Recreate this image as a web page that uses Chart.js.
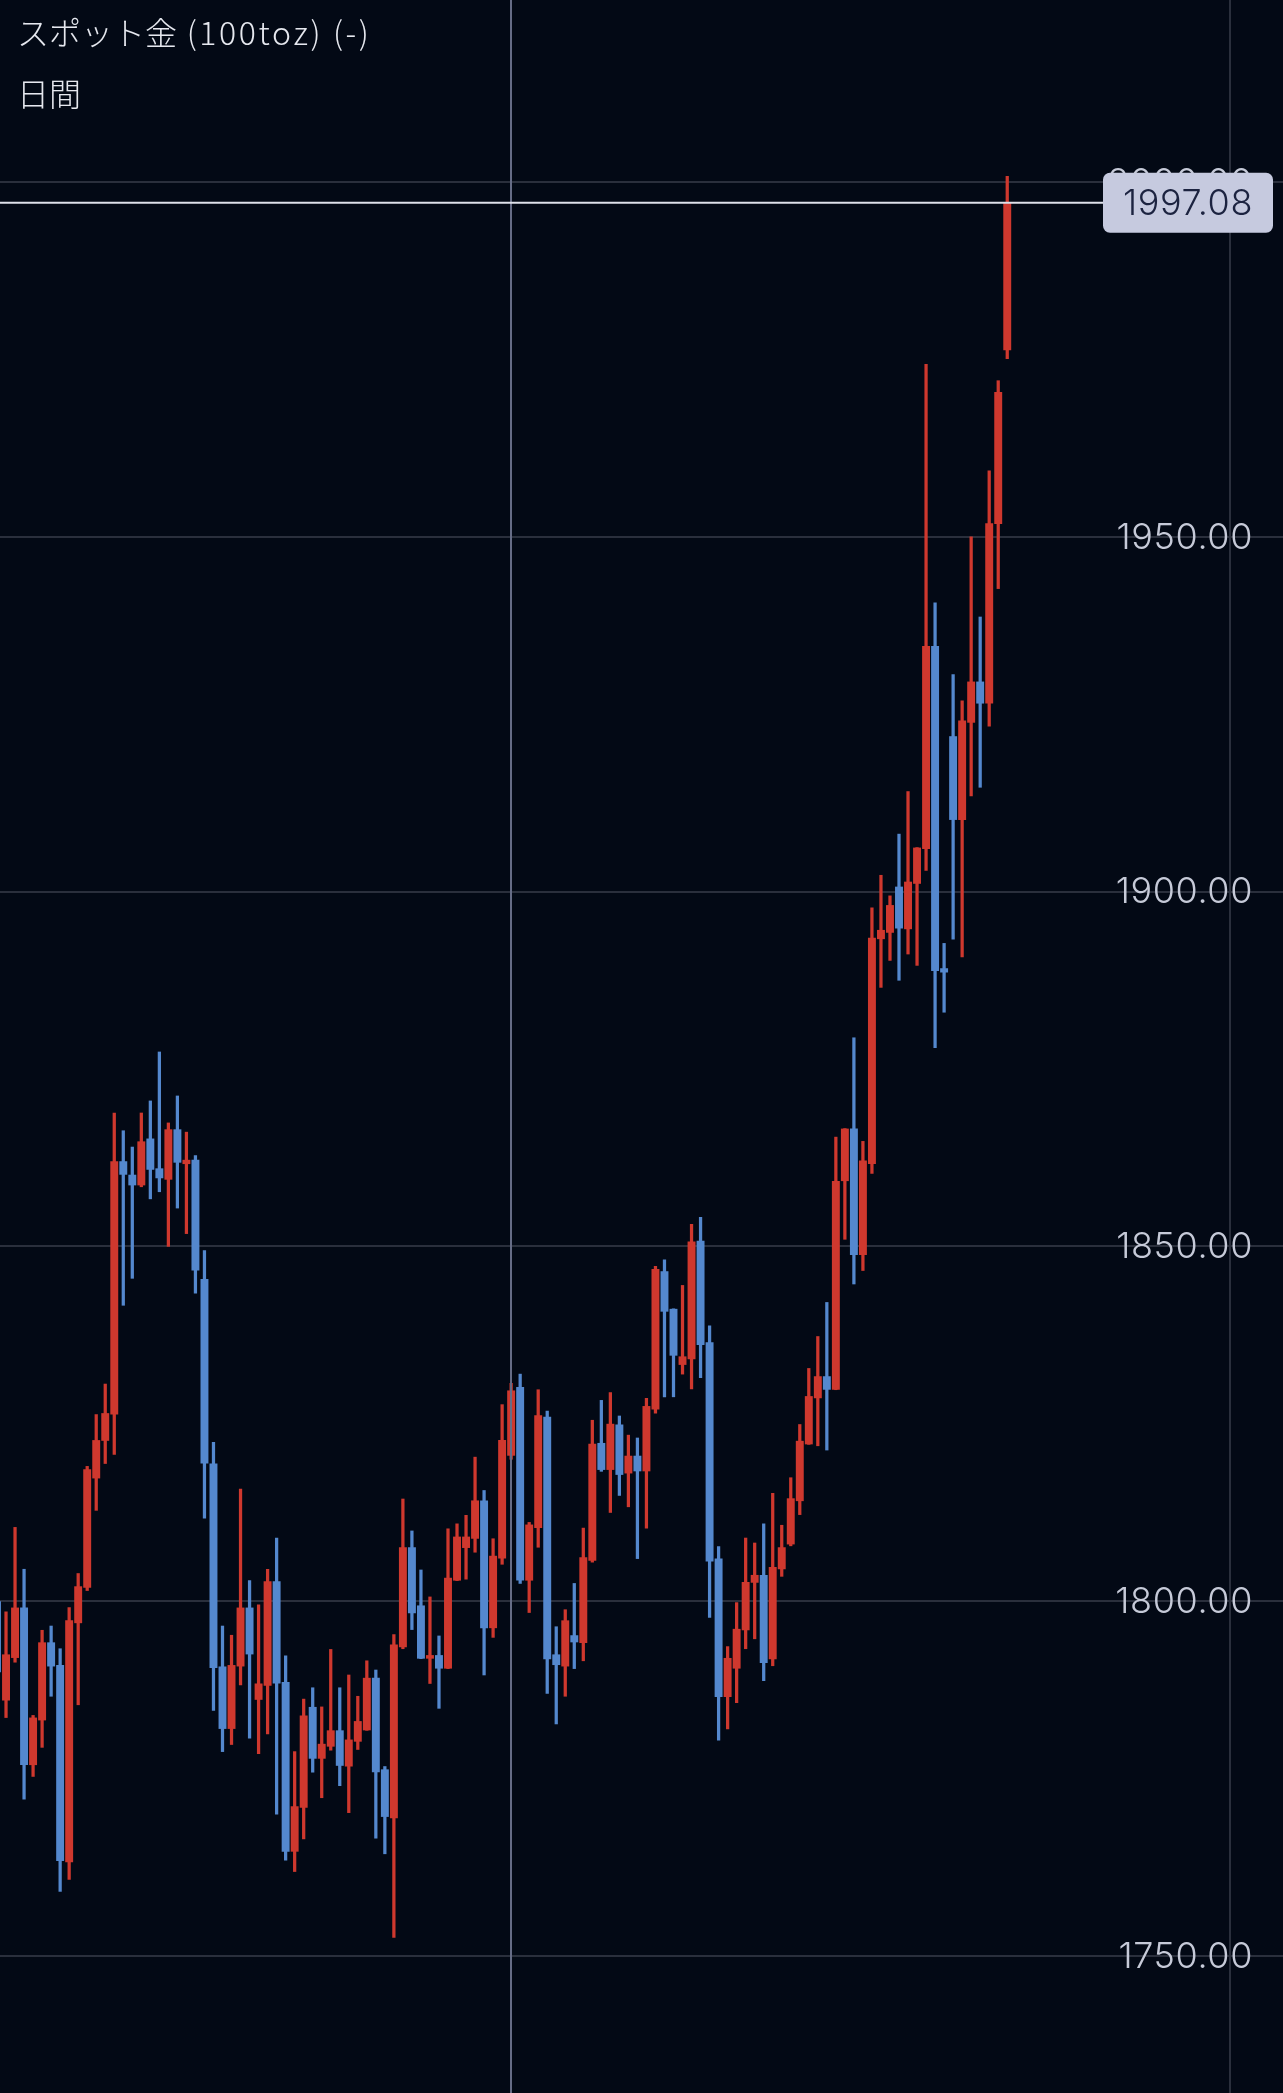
<!DOCTYPE html>
<html>
<head>
<meta charset="utf-8">
<script src="https://cdn.jsdelivr.net/npm/chart.js@4.4.1/dist/chart.umd.min.js"></script>
<style>
  html, body { margin:0; padding:0; background:#030915; width:1283px; height:2093px; overflow:hidden; }
  #c { position:absolute; left:0; top:0; }
  .t { position:absolute; left:17px; color:#e6e8ef; font-family:"Noto Sans CJK JP","Noto Sans",sans-serif; font-size:32px; line-height:32px; white-space:nowrap; font-weight:300; }
  .lat { letter-spacing:2.6px; }
</style>
</head>
<body>
<canvas id="c" width="1283" height="2093"></canvas>
<div class="t" style="top:15px;">スポット金<span class="lat"> (100toz) (-)</span></div>
<div class="t" style="top:76px;">日間</div>
<script>
// ---- data (daily candles, left to right) ----
const opens = [1800.0,1786.0,1792.0,1799.1,1776.9,1783.2,1794.2,1791.0,1763.2,1796.9,
1801.9,1817.3,1822.6,1826.3,1862.0,1860.1,1858.6,1865.2,1861.0,1859.4,
1866.5,1861.6,1862.2,1845.4,1819.4,1790.8,1782.0,1790.8,1799.1,1786.1,
1788.1,1802.8,1788.6,1764.7,1770.9,1785.1,1777.8,1779.5,1781.8,1776.7,
1780.2,1781.8,1789.2,1776.3,1769.4,1793.5,1807.6,1799.4,1791.9,1792.4,
1790.5,1802.9,1807.5,1808.8,1814.2,1796.2,1806.0,1820.5,1830.2,1802.9,
1810.3,1826.0,1792.5,1790.8,1795.2,1794.1,1805.7,1822.3,1818.5,1824.9,
1818.0,1820.5,1818.3,1827.0,1846.5,1841.2,1833.3,1834.1,1850.8,1836.5,
1806.0,1786.5,1790.5,1795.9,1802.6,1803.7,1791.8,1804.5,1808.0,1814.1,
1822.1,1828.6,1831.7,1829.8,1859.2,1866.6,1848.8,1861.6,1893.3,1894.2,
1900.7,1894.7,1901.1,1906.0,1934.6,1889.2,1921.9,1910.1,1923.8,1929.6,
1926.5,1951.8,1976.3];
const highs = [1807.4,1798.5,1810.4,1804.5,1783.9,1795.9,1796.5,1793.3,1799.1,1803.9,
1819.0,1826.3,1830.6,1868.8,1866.3,1864.0,1868.8,1870.5,1877.4,1867.4,
1871.2,1866.1,1862.8,1849.4,1822.4,1796.5,1795.2,1815.8,1802.9,1799.5,
1804.5,1808.9,1792.3,1778.8,1786.2,1787.8,1785.1,1793.2,1787.8,1789.6,
1786.6,1791.6,1790.3,1776.7,1795.3,1814.4,1809.9,1804.4,1800.6,1795.1,
1810.2,1810.9,1812.1,1820.3,1815.6,1808.8,1827.7,1830.7,1832.0,1811.1,
1829.8,1826.8,1796.4,1798.8,1802.5,1810.3,1825.5,1828.3,1829.4,1826.1,
1823.4,1823.0,1828.6,1847.2,1848.1,1841.2,1844.5,1853.1,1854.1,1838.8,
1807.7,1793.6,1799.8,1808.9,1808.2,1810.9,1815.2,1810.7,1817.4,1824.9,
1832.8,1837.3,1842.1,1865.4,1866.6,1879.4,1864.8,1897.7,1902.3,1899.4,
1908.1,1914.1,1906.2,1974.3,1940.7,1892.7,1930.6,1926.9,1950.0,1938.7,
1959.3,1972.0,2000.8];
const lows = [1786.5,1783.6,1791.4,1772.1,1775.3,1779.4,1786.6,1759.1,1760.8,1785.4,
1801.5,1812.8,1819.4,1820.7,1841.7,1845.5,1858.4,1856.7,1857.7,1850.0,
1855.4,1851.8,1843.4,1811.7,1784.6,1778.8,1779.8,1788.2,1780.7,1778.5,
1781.3,1770.0,1763.5,1761.9,1766.5,1775.9,1772.3,1779.0,1774.0,1770.2,
1779.1,1781.8,1766.6,1764.4,1752.6,1793.3,1796.0,1791.9,1788.4,1784.9,
1790.5,1802.9,1803.1,1806.9,1789.6,1794.9,1805.2,1820.0,1802.5,1798.4,
1807.6,1787.0,1782.7,1786.6,1790.5,1791.6,1805.5,1818.3,1812.5,1814.9,
1813.3,1806.0,1810.3,1826.5,1828.8,1828.8,1832.0,1829.9,1831.5,1797.7,
1780.4,1782.0,1785.7,1793.3,1794.7,1788.8,1790.9,1803.5,1807.8,1812.2,
1822.1,1821.9,1821.3,1829.8,1851.0,1844.7,1846.6,1860.3,1886.5,1890.3,
1887.5,1891.2,1889.6,1903.0,1878.0,1883.0,1893.3,1890.8,1913.5,1914.7,
1923.3,1942.7,1975.1];
const closes = [1790.0,1792.5,1799.1,1776.9,1783.6,1794.2,1790.8,1763.4,1797.3,1802.1,
1818.6,1822.7,1826.5,1862.0,1860.1,1858.6,1864.8,1860.8,1859.6,1866.5,
1861.8,1862.2,1846.6,1819.4,1790.6,1782.0,1791.0,1799.1,1792.5,1788.4,
1802.8,1788.4,1764.7,1771.1,1783.9,1777.8,1779.9,1781.8,1776.8,1780.5,
1783.1,1789.2,1775.9,1769.6,1793.9,1807.6,1798.3,1791.9,1792.4,1790.5,
1803.3,1809.1,1809.1,1814.2,1796.2,1806.4,1822.7,1829.7,1802.9,1810.8,
1826.2,1791.8,1791.0,1797.3,1794.2,1806.2,1822.2,1818.5,1825.0,1817.8,
1820.5,1818.3,1827.5,1846.8,1840.8,1834.6,1834.5,1850.7,1836.1,1805.6,
1786.5,1792.0,1796.1,1802.7,1803.7,1791.3,1804.8,1807.6,1814.5,1822.6,
1828.9,1831.7,1829.8,1859.2,1866.6,1848.8,1862.1,1893.5,1894.6,1898.1,
1894.8,1901.4,1906.2,1934.6,1888.8,1888.6,1910.1,1924.1,1929.6,1926.5,
1951.9,1970.4,1997.08];
const yTicks = [1750, 1800, 1850, 1900, 1950, 2000];
const lastPrice = 1997.08;
const selectedIndex = 57;     // crosshair candle
const xGridAt = [136.7];      // vertical date gridline

// ---- styling ----
const UP = 'rgb(207,56,46)';
const DOWN = 'rgb(84,136,206)';
const GRID = '#2a2f3c';
const LABEL_FONT = '300 36px Inter, "Noto Sans", sans-serif';

const idx = opens.map((_, i) => i);
const colors = idx.map(i => closes[i] >= opens[i] ? UP : DOWN);

const overlay = {
  id: 'overlay',
  afterDatasetsDraw(chart) {
    const {ctx, scales: {x}, chartArea} = chart;
    ctx.save();
    ctx.strokeStyle = '#666c86';
    ctx.lineWidth = 2;
    const cx = Math.round(x.getPixelForValue(selectedIndex));
    ctx.beginPath(); ctx.moveTo(cx, chartArea.top); ctx.lineTo(cx, chartArea.bottom); ctx.stroke();
    ctx.restore();
  },
  afterDraw(chart) {
    const {ctx, scales: {y}, chartArea} = chart;
    ctx.save();
    ctx.font = LABEL_FONT;
    if ('letterSpacing' in ctx) ctx.letterSpacing = '0.6px';
    ctx.fillStyle = '#c6cad8';
    ctx.textAlign = 'right';
    ctx.textBaseline = 'middle';
    yTicks.forEach(v => {
      ctx.fillText(v.toFixed(2), 1253, y.getPixelForValue(v) + 1);
    });
    const py = y.getPixelForValue(lastPrice);
    const boxL = 1103, boxR = 1273, boxH = 60;
    ctx.strokeStyle = '#dfe1ea';
    ctx.lineWidth = 2;
    ctx.beginPath(); ctx.moveTo(chartArea.left, py); ctx.lineTo(boxL, py); ctx.stroke();
    ctx.fillStyle = '#c6cadf';
    ctx.beginPath();
    ctx.roundRect(boxL, py - boxH / 2, boxR - boxL, boxH, 7);
    ctx.fill();
    ctx.fillStyle = '#1c2340';
    ctx.fillText(lastPrice.toFixed(2), 1253, py + 1);
    ctx.restore();
  }
};

new Chart(document.getElementById('c'), {
  type: 'bar',
  data: {
    datasets: [
      {
        label: 'wick',
        data: idx.map(i => ({x: i, y: [lows[i], highs[i]]})),
        backgroundColor: colors,
        barThickness: 2.6,
        grouped: false,
        order: 2,
        borderSkipped: false,
        minBarLength: 1
      },
      {
        label: 'body',
        data: idx.map(i => ({x: i, y: [opens[i], closes[i]]})),
        backgroundColor: colors,
        barPercentage: 0.88,
        categoryPercentage: 1,
        grouped: false,
        order: 1,
        borderSkipped: false,
        minBarLength: 2
      }
    ]
  },
  options: {
    responsive: false,
    animation: false,
    devicePixelRatio: 1,
    layout: { padding: 0 },
    plugins: { legend: { display: false }, tooltip: { enabled: false }, title: { display: false } },
    scales: {
      x: {
        type: 'linear',
        min: 3 / 9.02,
        max: 3 / 9.02 + 1283 / 9.02,
        offset: false,
        ticks: { display: false },
        grid: { color: GRID, lineWidth: 2, drawTicks: false, offset: false },
        border: { display: false },
        afterBuildTicks: s => { s.ticks = xGridAt.map(v => ({value: v})); }
      },
      y: {
        type: 'linear',
        position: 'right',
        min: 1730.69,
        max: 2025.65,
        ticks: { display: false },
        grid: { color: GRID, lineWidth: 2, drawTicks: false },
        border: { display: false },
        afterBuildTicks: s => { s.ticks = yTicks.map(v => ({value: v})); }
      }
    }
  },
  plugins: [overlay]
});
</script>
</body>
</html>
